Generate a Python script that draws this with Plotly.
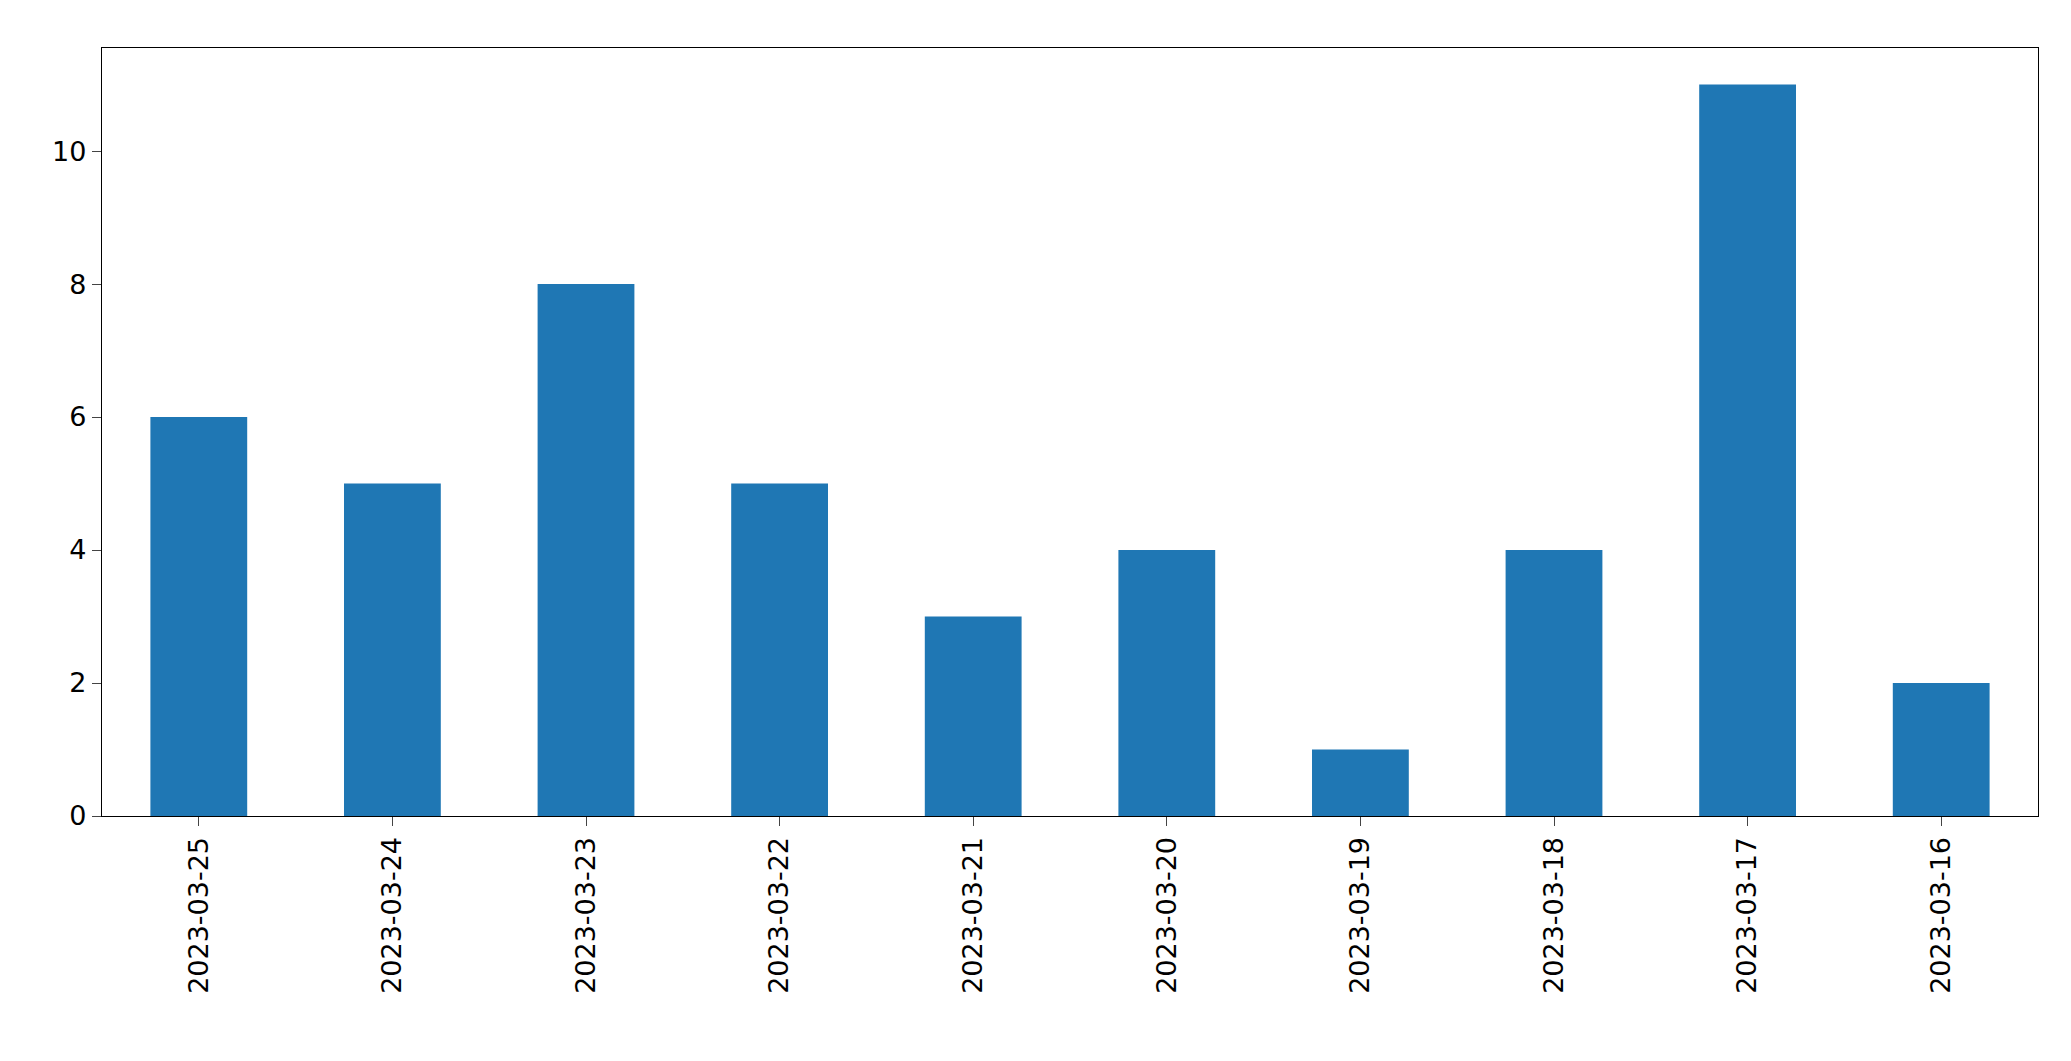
import plotly.graph_objects as go

dates = ["2023-03-25","2023-03-24","2023-03-23","2023-03-22","2023-03-21",
         "2023-03-20","2023-03-19","2023-03-18","2023-03-17","2023-03-16"]
counts = [6, 5, 8, 5, 3, 4, 1, 4, 11, 2]

fig = go.Figure(go.Bar(x=list(range(len(dates))), y=counts, width=0.5,
                       marker=dict(color="#1f77b4", line=dict(width=0))))
fig.update_layout(
    width=2071, height=1061, paper_bgcolor="white", plot_bgcolor="white",
    margin=dict(l=94, r=41, t=40, b=253), showlegend=False,
    font=dict(family="DejaVu Sans", size=27, color="black"),
)
fig.update_xaxes(range=[-0.5, 9.5], tickmode="array", tickvals=list(range(len(dates))),
                 ticktext=dates, tickangle=-90, ticks="outside", ticklen=9, tickwidth=1.3,
                 showline=True, linecolor="black", linewidth=1.3, mirror=True,
                 showgrid=False, zeroline=False)
fig.update_yaxes(range=[0, 11.55], tickvals=[0, 2, 4, 6, 8, 10], ticks="outside",
                 ticklen=9, tickwidth=1.3, showline=True, linecolor="black",
                 linewidth=1.3, mirror=True, showgrid=False, zeroline=False)
fig.write_html("out.html")
